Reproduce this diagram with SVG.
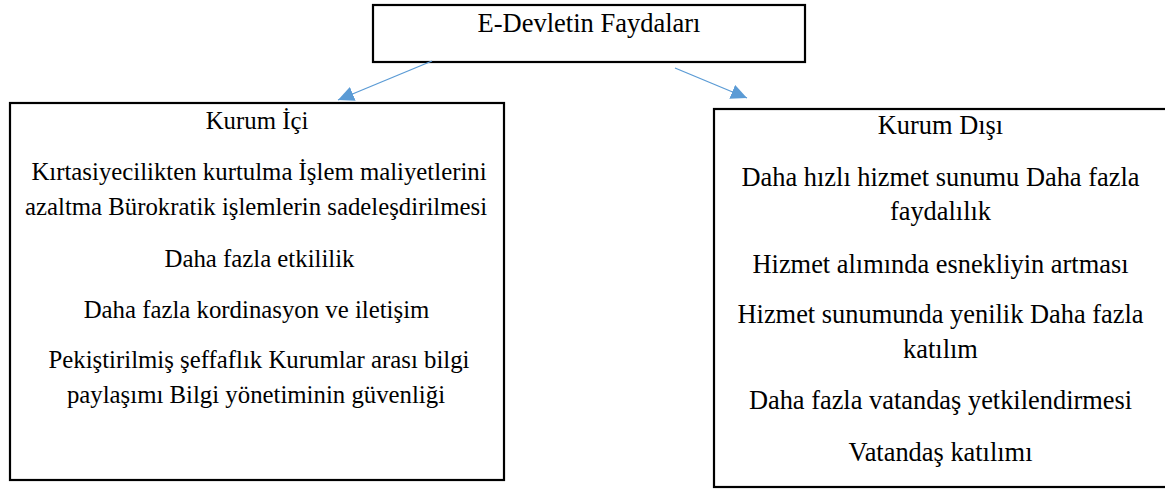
<svg xmlns="http://www.w3.org/2000/svg" width="1165" height="489" viewBox="0 0 1165 489">
<style>
.box{fill:#fff;stroke:#000;stroke-width:2.2}
.t{font-family:"Liberation Serif","Times New Roman",serif;fill:#000;text-anchor:middle}
.l{font-size:24.8px}
.r{font-size:26.4px}
.h{font-size:26.5px}
.c{stroke:#5B9BD5;stroke-width:1.3;fill:none;marker-end:url(#ah)}
</style>
<defs>
<marker id="ah" viewBox="0 0 16 15" refX="16" refY="7.5" markerWidth="16" markerHeight="15" markerUnits="userSpaceOnUse" orient="auto">
<path d="M0,0 L16,7.5 L0,15 Z" fill="#5B9BD5"/>
</marker>
</defs>
<rect width="1165" height="489" fill="#fff"/>
<g id="node-top">
<rect class="box" x="373" y="5" width="432" height="57"/>
<text class="t h" x="589" y="31.7">E-Devletin Faydaları</text>
</g>
<g id="node-left">
<rect class="box" x="10" y="103" width="494" height="377"/>
<text class="t l" x="257" y="129.3">Kurum İçi</text>
<text class="t l" x="259" y="180">Kırtasiyecilikten kurtulma İşlem maliyetlerini</text>
<text class="t l" x="256" y="215">azaltma Bürokratik işlemlerin sadeleşdirilmesi</text>
<text class="t l" x="259.5" y="266.7">Daha fazla etkililik</text>
<text class="t l" x="256.5" y="317.7">Daha fazla kordinasyon ve iletişim</text>
<text class="t l" x="259" y="368.3">Pekiştirilmiş şeffaflık Kurumlar arası bilgi</text>
<text class="t l" x="256" y="403.3">paylaşımı Bilgi yönetiminin güvenliği</text>
</g>
<g id="node-right">
<rect class="box" x="714" y="109" width="454" height="378"/>
<text class="t r" x="940.5" y="134.3">Kurum Dışı</text>
<text class="t r" x="940.5" y="185.7">Daha hızlı hizmet sunumu Daha fazla</text>
<text class="t r" x="940.5" y="220">faydalılık</text>
<text class="t r" x="940.5" y="272.7">Hizmet alımında esnekliyin artması</text>
<text class="t r" x="940.5" y="323.3">Hizmet sunumunda yenilik Daha fazla</text>
<text class="t r" x="940.5" y="358.3">katılım</text>
<text class="t r" x="940.5" y="409.3">Daha fazla vatandaş yetkilendirmesi</text>
<text class="t r" x="940.5" y="461">Vatandaş katılımı</text>
</g>
<g id="connectors">
<line class="c" x1="432" y1="61" x2="338" y2="100"/>
<line class="c" x1="675" y1="68" x2="747" y2="98"/>
</g>
</svg>
